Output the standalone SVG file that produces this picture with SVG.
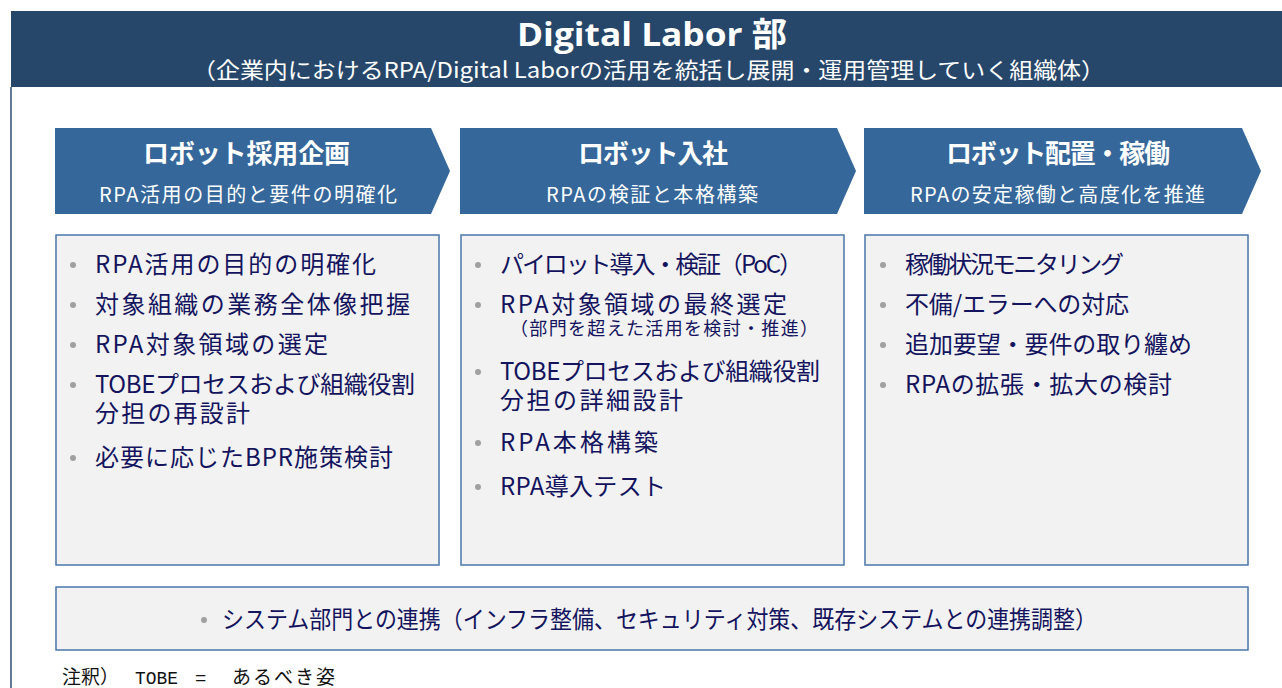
<svg xmlns="http://www.w3.org/2000/svg" width="1282" height="688" viewBox="0 0 1282 688">
<style>
.jp{font-family:"Noto Sans CJK JP","Noto Sans",sans-serif}
.chev{fill:#35679a}
.h{font-family:"Noto Sans CJK JP",sans-serif;font-weight:bold;font-size:26px;fill:#fff}
.s{font-family:"Noto Sans CJK JP",sans-serif;font-size:20px;fill:#fff}
.box{fill:#f2f2f2;stroke:#4a77aa;stroke-width:1.5}
.t{font-family:"Noto Sans CJK JP",sans-serif;font-size:24px;fill:#14145e}
.ts{font-family:"Noto Sans CJK JP",sans-serif;font-size:18px;fill:#14145e}
.dot{fill:#a0a0a0}
</style>
<rect width="1282" height="688" fill="#fff"/>
<g id="frame">
<line x1="11" y1="87" x2="11" y2="688" stroke="#2a4d74" stroke-width="1.5"/>
<rect x="11" y="11" width="1272" height="76" fill="#26466a"/>
<text x="517" y="46" font-family="'Open Sans','Noto Sans CJK JP',sans-serif" font-weight="bold" font-size="33" fill="#fff" textLength="270" lengthAdjust="spacingAndGlyphs">Digital Labor 部</text>
<text x="192" y="78" class="jp" font-size="22" fill="#fff" textLength="913" lengthAdjust="spacingAndGlyphs">（企業内におけるRPA/Digital Laborの活用を統括し展開・運用管理していく組織体）</text>
</g>
<g id="phase1">
<polygon class="chev" points="55,128 431,128 450,171 431,214 55,214"/>
<text class="h" x="143" y="163" textLength="207" lengthAdjust="spacing">ロボット採用企画</text>
<text class="s" x="99" y="202" textLength="298" lengthAdjust="spacing">RPA活用の目的と要件の明確化</text>
</g>
<g id="phase2">
<polygon class="chev" points="460,128 837,128 856,171 837,214 460,214"/>
<text class="h" x="578" y="163" textLength="150" lengthAdjust="spacing">ロボット入社</text>
<text class="s" x="546" y="202" textLength="212" lengthAdjust="spacing">RPAの検証と本格構築</text>
</g>
<g id="phase3">
<polygon class="chev" points="864,128 1242,128 1261,171 1242,214 864,214"/>
<text class="h" x="946" y="163" textLength="224" lengthAdjust="spacing">ロボット配置・稼働</text>
<text class="s" x="910" y="202" textLength="295" lengthAdjust="spacing">RPAの安定稼働と高度化を推進</text>
</g>
<g id="box1">
<rect class="box" x="56" y="235" width="383" height="330"/>
<circle class="dot" cx="73" cy="265" r="3"/><text class="t" x="95" y="273" textLength="281" lengthAdjust="spacing">RPA活用の目的の明確化</text>
<circle class="dot" cx="73" cy="305" r="3"/><text class="t" x="95" y="313" textLength="315" lengthAdjust="spacing">対象組織の業務全体像把握</text>
<circle class="dot" cx="73" cy="345" r="3"/><text class="t" x="95" y="353" textLength="233" lengthAdjust="spacing">RPA対象領域の選定</text>
<circle class="dot" cx="73" cy="385" r="3"/><text class="t" x="95" y="393" textLength="320" lengthAdjust="spacing">TOBEプロセスおよび組織役割</text>
<text class="t" x="95" y="422" textLength="155" lengthAdjust="spacing">分担の再設計</text>
<circle class="dot" cx="73" cy="458" r="3"/><text class="t" x="95" y="466" textLength="298" lengthAdjust="spacing">必要に応じたBPR施策検討</text>
</g>
<g id="box2">
<rect class="box" x="461" y="235" width="383" height="330"/>
<circle class="dot" cx="478" cy="265" r="3"/><text class="t" x="500" y="273" textLength="303" lengthAdjust="spacing">パイロット導入・検証（PoC）</text>
<circle class="dot" cx="478" cy="305" r="3"/><text class="t" x="500" y="313" textLength="287" lengthAdjust="spacing">RPA対象領域の最終選定</text>
<text class="ts" x="510" y="335" textLength="308" lengthAdjust="spacing">（部門を超えた活用を検討・推進）</text>
<circle class="dot" cx="478" cy="372" r="3"/><text class="t" x="500" y="380" textLength="320" lengthAdjust="spacing">TOBEプロセスおよび組織役割</text>
<text class="t" x="500" y="409" textLength="183" lengthAdjust="spacing">分担の詳細設計</text>
<circle class="dot" cx="478" cy="443" r="3"/><text class="t" x="500" y="451" textLength="158" lengthAdjust="spacing">RPA本格構築</text>
<circle class="dot" cx="478" cy="487" r="3"/><text class="t" x="500" y="495" textLength="166" lengthAdjust="spacing">RPA導入テスト</text>
</g>
<g id="box3">
<rect class="box" x="865" y="235" width="383" height="330"/>
<circle class="dot" cx="883" cy="265" r="3"/><text class="t" x="905" y="273" textLength="219" lengthAdjust="spacing">稼働状況モニタリング</text>
<circle class="dot" cx="883" cy="305" r="3"/><text class="t" x="905" y="313" textLength="224" lengthAdjust="spacing">不備/エラーへの対応</text>
<circle class="dot" cx="883" cy="345" r="3"/><text class="t" x="905" y="353" textLength="287" lengthAdjust="spacing">追加要望・要件の取り纏め</text>
<circle class="dot" cx="883" cy="385" r="3"/><text class="t" x="905" y="393" textLength="267" lengthAdjust="spacing">RPAの拡張・拡大の検討</text>
</g>
<g id="box4">
<rect class="box" x="56" y="587" width="1192" height="63"/>
<circle class="dot" cx="204" cy="620" r="3"/>
<text class="t" x="222" y="628" textLength="875" lengthAdjust="spacingAndGlyphs">システム部門との連携（インフラ整備、セキュリティ対策、既存システムとの連携調整）</text>
</g>
<g id="note" font-family="'Noto Sans CJK JP',sans-serif" font-size="19" fill="#111">
<text x="62" y="684">注釈）</text>
<text x="135" y="684" font-family="'Liberation Mono','DejaVu Sans Mono',monospace" textLength="43" lengthAdjust="spacingAndGlyphs">TOBE</text>
<text x="195" y="684" font-family="'Liberation Mono','DejaVu Sans Mono',monospace">=</text>
<text x="232" y="684" textLength="103" lengthAdjust="spacing">あるべき姿</text>
</g>
</svg>
